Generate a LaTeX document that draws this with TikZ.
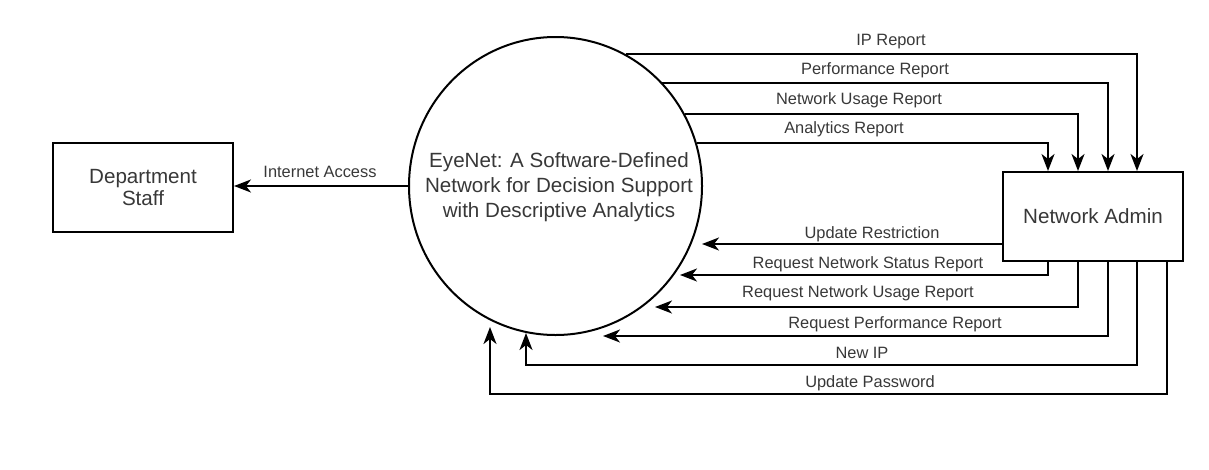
\documentclass[tikz,border=0pt]{standalone}
\usepackage{fontspec}
\setmainfont{Liberation Sans}
\usetikzlibrary{arrows.meta,shapes.geometric,calc}
\definecolor{txt}{HTML}{383838}
\begin{document}
\begin{tikzpicture}[x=1pt,y=-1pt,
  line/.style={line width=2pt, draw=black},
  flow/.style={line, -{Stealth[length=17pt,width=13pt,inset=5pt]}},
  lbl/.style={anchor=base, font=\fontsize{16.4}{19}\selectfont, text=txt, inner sep=0pt},
  ent/.style={draw, line width=2pt, minimum width=180pt, minimum height=89pt, inner sep=0pt,
    font=\fontsize{20.6}{22}\selectfont, text=txt, align=center},
  bigtext/.style={font=\fontsize{20.6}{25}\selectfont, text=txt, align=center, inner sep=0pt}
]
\useasboundingbox (0,0) rectangle (1209,469);

% nodes
\node[ellipse, draw, line width=2pt, minimum width=293pt, minimum height=298pt, inner sep=0pt] (sys) at (555.5,186) {};
\node[bigtext] (systxt) at (559,187.6) {EyeNet: A Software-Defined\\Network for Decision Support\\with Descriptive Analytics};
\node[ent] (staff) at (143,187.5) {Department\\Staff};
\node[ent] (admin) at (1093,216.5) {Network Admin};

% columns and turning rows
\coordinate (k1) at (1048,0);
\coordinate (k2) at (1078,0);
\coordinate (k3) at (1108,0);
\coordinate (k4) at (1137,0);
\coordinate (k5) at (1167,0);
\coordinate (r5) at (0,365);
\coordinate (r6) at (0,394);

% arrow tips near the circle
\coordinate (t1) at (702,244);
\coordinate (t2) at (680,275);
\coordinate (t3) at (655,307);
\coordinate (t4) at (603,336);
\coordinate (t5) at (526,333);
\coordinate (t6) at (490,327);

% system -> staff
\draw[flow] (sys.west) -- (staff.east |- sys.west);

% system -> admin
\draw[flow] (sys.62.85) -| (admin.north -| k4);
\draw[flow] (sys.44.37) -| (admin.north -| k3);
\draw[flow] (sys.29.98) -| (admin.north -| k2);
\draw[flow] (sys.17.74) -| (admin.north -| k1);

% admin -> system
\draw[flow] (admin.west |- t1) -- (t1);
\draw[flow] (admin.south -| k1) |- (t2);
\draw[flow] (admin.south -| k2) |- (t3);
\draw[flow] (admin.south -| k3) |- (t4);
\draw[flow] (admin.south -| k4) -- (k4 |- r5) -- (t5 |- r5) -- (t5);
\draw[flow] (admin.south -| k5) -- (k5 |- r6) -- (t6 |- r6) -- (t6);

% labels
\node[lbl] (lip) at (891,45) {IP Report};
\node[lbl] (lperf) at (875,74) {Performance Report};
\node[lbl] (lnu) at (859,104) {Network Usage Report};
\node[lbl] (lar) at (844,133) {Analytics Report};
\node[lbl] (lia) at (320,177.5) {Internet Access};
\node[lbl] (lur) at (872,238) {Update Restriction};
\node[lbl] (lrns) at (868,268) {Request Network Status Report};
\node[lbl] (lrnu) at (858,297) {Request Network Usage Report};
\node[lbl] (lrpr) at (895,328) {Request Performance Report};
\node[lbl] (lnip) at (862,358) {New IP};
\node[lbl] (lup) at (870,387) {Update Password};
\end{tikzpicture}
\end{document}
